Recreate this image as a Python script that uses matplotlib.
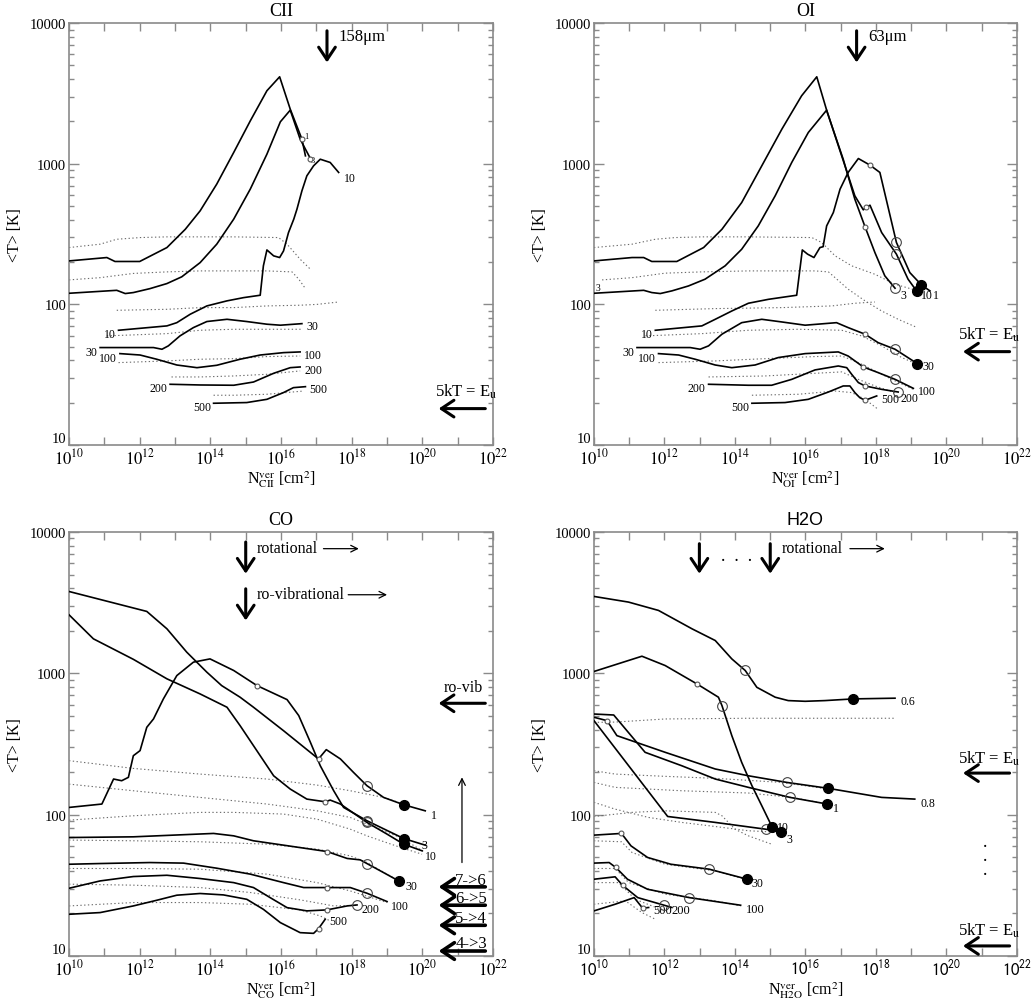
import numpy as np
import matplotlib
matplotlib.use("Agg")
import matplotlib.pyplot as plt
from matplotlib.ticker import FixedLocator, NullFormatter, FuncFormatter, LogLocator

plt.rcParams['font.family'] = ['Liberation Serif', 'DejaVu Serif']
plt.rcParams['mathtext.fontset'] = 'stix'

# all curves: log10 N [cm^-2] and log10 <T> [K]

# ---- CII ----
cii_1_x = [10, 11.07, 11.3, 12.0, 12.77, 13.29, 13.71, 14.18, 14.66, 15.13, 15.6, 15.96, 16.26, 16.59, 16.69]
cii_1_y = [2.309, 2.333, 2.305, 2.305, 2.404, 2.534, 2.665, 2.855, 3.08, 3.305, 3.519, 3.618, 3.388, 3.175, 3.056]
cii_3_x = [10, 11.35, 11.59, 11.82, 12.29, 12.77, 13.19, 13.71, 14.18, 14.66, 15.13, 15.6, 15.98, 16.26, 16.54, 16.83]
cii_3_y = [2.079, 2.1, 2.077, 2.084, 2.112, 2.148, 2.196, 2.297, 2.428, 2.606, 2.82, 3.068, 3.298, 3.381, 3.175, 3.037]
cii_10_x = [11.4, 12.77, 13.05, 13.43, 13.9, 14.47, 14.94, 15.41, 15.5, 15.6, 15.79, 15.96, 16.07, 16.21,
            16.36, 16.45, 16.59, 16.73, 16.92, 17.11, 17.39, 17.63]
cii_10_y = [1.816, 1.847, 1.87, 1.93, 1.989, 2.025, 2.048, 2.065, 2.274, 2.387, 2.345, 2.333, 2.38, 2.51,
            2.606, 2.677, 2.807, 2.914, 2.985, 3.032, 3.009, 2.938]
cii_30_x = [10.88, 12.39, 12.63, 12.81, 13.14, 13.52, 13.9, 14.47, 15.03, 15.6, 15.98, 16.59]
cii_30_y = [1.693, 1.693, 1.681, 1.705, 1.776, 1.835, 1.878, 1.894, 1.878, 1.859, 1.852, 1.863]
cii_100_x = [11.44, 12.01, 12.48, 13.05, 13.62, 14.18, 14.84, 15.41, 16.07, 16.54]
cii_100_y = [1.65, 1.64, 1.61, 1.569, 1.55, 1.567, 1.61, 1.64, 1.657, 1.662]
cii_200_x = [12.86, 13.71, 14.66, 15.22, 15.79, 16.26, 16.54]
cii_200_y = [1.432, 1.427, 1.425, 1.448, 1.51, 1.55, 1.555]
cii_500_x = [14.09, 15.03, 15.6, 16.07, 16.35, 16.69]
cii_500_y = [1.297, 1.302, 1.325, 1.373, 1.408, 1.415]
cii_d1_x = [10, 10.88, 11.35, 12.01, 12.77, 13.71, 14.66, 15.93, 16.17, 16.54, 16.83]
cii_d1_y = [2.404, 2.428, 2.463, 2.475, 2.48, 2.48, 2.48, 2.475, 2.428, 2.321, 2.25]
cii_d2_x = [10, 10.88, 11.82, 12.77, 13.71, 14.66, 15.6, 16.31, 16.5, 16.69]
cii_d2_y = [2.174, 2.19, 2.22, 2.231, 2.238, 2.238, 2.238, 2.231, 2.18, 2.112]
cii_d3_x = [11.35, 12.77, 13.71, 14.66, 15.6, 16.54, 17.02, 17.63]
cii_d3_y = [1.958, 1.965, 1.977, 1.977, 1.989, 1.994, 2.0, 2.017]
cii_d4_x = [11.07, 12.77, 13.71, 14.66, 15.6, 16.59]
cii_d4_y = [1.776, 1.792, 1.816, 1.823, 1.823, 1.823]
cii_d5_x = [11.4, 12.77, 13.71, 14.66, 15.6, 16.54]
cii_d5_y = [1.586, 1.598, 1.61, 1.614, 1.629, 1.633]
cii_d6_x = [12.9, 13.71, 14.66, 15.6, 16.54]
cii_d6_y = [1.484, 1.484, 1.491, 1.503, 1.527]
cii_d7_x = [14.09, 14.66, 15.6, 16.64]
cii_d7_y = [1.354, 1.354, 1.361, 1.384]

# ---- OI ----
oi_3_x = [10, 11.08, 11.41, 11.64, 12.35, 13.11, 13.63, 14.19, 14.76, 15.33, 15.89, 16.32, 16.62, 17.07,
          17.4, 17.69, 17.97, 18.25, 18.54]
oi_3_y = [2.309, 2.333, 2.333, 2.305, 2.305, 2.404, 2.534, 2.724, 2.985, 3.246, 3.483, 3.618, 3.364, 3.032,
          2.748, 2.551, 2.368, 2.203, 2.115]
oi_10_x = [10, 11.41, 11.64, 11.88, 12.21, 12.68, 13.15, 13.72, 14.19, 14.66, 15.14, 15.61, 16.08, 16.6,
           16.84, 17.12, 17.4, 17.64, 17.71, 17.83, 18.16, 18.58, 18.91, 19.15]
oi_10_y = [2.079, 2.1, 2.084, 2.077, 2.096, 2.131, 2.179, 2.274, 2.392, 2.558, 2.772, 3.009, 3.222, 3.381,
           3.198, 2.985, 2.772, 2.672, 2.689, 2.705, 2.511, 2.357, 2.179, 2.096]
oi_1_x = [11.74, 13.06, 13.44, 13.91, 14.38, 14.95, 15.75, 15.91, 16.06, 16.24, 16.41, 16.5, 16.6, 16.79,
          16.98, 17.21, 17.5, 17.83, 18.11, 18.58, 18.96, 19.29, 19.53]
oi_1_y = [1.816, 1.847, 1.894, 1.953, 2.008, 2.036, 2.065, 2.387, 2.357, 2.333, 2.404, 2.41, 2.558, 2.653,
          2.819, 2.938, 3.037, 2.99, 2.938, 2.44, 2.226, 2.138, 2.096]
oi_30_x = [11.22, 12.73, 13.01, 13.25, 13.63, 14.19, 14.76, 15.33, 15.99, 16.88, 17.21, 17.69, 18.06, 18.54, 19.17]
oi_30_y = [1.693, 1.693, 1.681, 1.705, 1.788, 1.87, 1.894, 1.875, 1.852, 1.87, 1.835, 1.788, 1.728, 1.681, 1.579]
oi_100_x = [11.83, 12.4, 12.87, 13.44, 13.91, 14.57, 15.23, 15.99, 16.93, 17.21, 17.64, 18.06, 18.54, 19.06]
oi_100_y = [1.65, 1.64, 1.61, 1.569, 1.55, 1.569, 1.622, 1.65, 1.662, 1.633, 1.555, 1.515, 1.467, 1.403]
oi_200_x = [13.25, 14.38, 15.04, 15.61, 16.27, 16.93, 17.17, 17.31, 17.5, 17.69, 18.16, 18.63]
oi_200_y = [1.432, 1.425, 1.425, 1.467, 1.534, 1.562, 1.55, 1.503, 1.444, 1.42, 1.396, 1.377]
oi_500_x = [14.48, 15.42, 16.08, 16.65, 17.07, 17.26, 17.4, 17.54, 17.69, 18.02]
oi_500_y = [1.297, 1.302, 1.325, 1.377, 1.42, 1.42, 1.373, 1.337, 1.318, 1.349]
oi_d1_x = [10, 11.08, 11.74, 12.3, 13.06, 14.38, 16.18, 16.46, 16.84, 17.31, 17.97, 18.54, 19.1]
oi_d1_y = [2.404, 2.428, 2.463, 2.475, 2.48, 2.48, 2.475, 2.44, 2.345, 2.274, 2.214, 2.143, 2.103]
oi_d2_x = [10.23, 11.08, 12.02, 13.06, 14.38, 16.27, 16.65, 16.84, 17.21, 17.69, 18.16, 18.63, 19.17]
oi_d2_y = [2.174, 2.19, 2.222, 2.231, 2.238, 2.238, 2.231, 2.19, 2.108, 2.025, 1.953, 1.894, 1.835]
oi_d3_x = [11.74, 13.44, 15.33, 16.75, 17.4, 17.97]
oi_d3_y = [1.958, 1.97, 1.977, 1.989, 2.008, 2.017]
oi_d4_x = [11.46, 13.06, 14.38, 15.8, 17.03, 17.59, 18.16, 18.73, 19.17]
oi_d4_y = [1.776, 1.792, 1.816, 1.823, 1.816, 1.776, 1.705, 1.622, 1.574]
oi_d5_x = [11.83, 13.44, 14.85, 16.27, 17.03, 17.5, 17.97, 18.54, 19.06]
oi_d5_y = [1.586, 1.598, 1.614, 1.629, 1.633, 1.586, 1.527, 1.456, 1.396]
oi_d6_x = [13.25, 14.85, 16.27, 17.03, 17.5, 17.97, 18.54]
oi_d6_y = [1.484, 1.491, 1.51, 1.52, 1.467, 1.42, 1.373]
oi_d7_x = [14.48, 15.8, 16.84, 17.31, 17.69, 18.06]
oi_d7_y = [1.354, 1.361, 1.384, 1.373, 1.325, 1.254]

# ---- CO ----
co_1_x = [10, 12.2, 12.77, 13.33, 13.9, 14.32, 14.84, 15.22, 16.07, 17.06, 17.28, 17.68, 18.05, 18.43, 18.9, 19.47, 20.08]
co_1_y = [3.579, 3.438, 3.315, 3.15, 3.008, 2.913, 2.831, 2.76, 2.594, 2.394, 2.46, 2.394, 2.299, 2.205, 2.122, 2.07, 2.027]
co_10_x = [10, 10.69, 11.82, 12.77, 13.71, 14.47, 14.84, 15.22, 15.79, 16.26, 16.73, 17.25, 17.39, 17.68,
           18.43, 19.0, 19.47, 19.99]
co_10_y = [3.414, 3.244, 3.099, 2.961, 2.854, 2.76, 2.63, 2.488, 2.275, 2.181, 2.11, 2.091, 2.103, 2.075,
           1.945, 1.862, 1.791, 1.744]
co_3_x = [10, 10.93, 11.26, 11.49, 11.68, 11.82, 12.01, 12.2, 12.39, 12.67, 13.05, 13.52, 13.99, 14.66,
          15.32, 16.17, 16.5, 16.83, 17.11, 17.49, 17.77, 18.43, 19.47, 20.08]
co_3_y = [2.051, 2.075, 2.252, 2.24, 2.264, 2.417, 2.453, 2.618, 2.677, 2.819, 2.984, 3.079, 3.102, 3.02,
          2.913, 2.814, 2.701, 2.512, 2.346, 2.169, 2.051, 1.957, 1.831, 1.784]
co_30_x = [10, 11.82, 14.09, 14.66, 15.22, 16.07, 17.3, 17.87, 18.24, 18.43, 18.9, 19.33]
co_30_y = [1.838, 1.843, 1.867, 1.85, 1.815, 1.784, 1.739, 1.69, 1.68, 1.654, 1.59, 1.531]
co_100_x = [10, 10.88, 12.29, 13.24, 14.18, 15.13, 16.07, 16.64, 17.3, 17.96, 18.43, 19.0]
co_100_y = [1.649, 1.654, 1.661, 1.657, 1.621, 1.579, 1.519, 1.484, 1.484, 1.484, 1.444, 1.385]
co_200_x = [10, 10.88, 11.82, 12.77, 13.71, 14.66, 15.22, 15.69, 16.17, 16.73, 17.3, 17.87, 18.15]
co_200_y = [1.479, 1.531, 1.562, 1.571, 1.548, 1.519, 1.484, 1.413, 1.342, 1.319, 1.326, 1.354, 1.361]
co_500_x = [10, 10.88, 11.82, 12.48, 13.05, 13.71, 14.37, 15.03, 15.5, 15.98, 16.54, 16.92, 17.06, 17.25]
co_500_y = [1.295, 1.307, 1.354, 1.394, 1.43, 1.442, 1.432, 1.401, 1.33, 1.236, 1.165, 1.16, 1.193, 1.26]
co_d1_x = [10, 11.82, 13.71, 15.6, 17.02, 17.96, 18.9, 19.47]
co_d1_y = [2.382, 2.327, 2.287, 2.252, 2.209, 2.169, 2.122, 2.075]
co_d2_x = [10, 11.82, 13.71, 15.6, 17.02, 17.96, 18.43, 19.38, 20.08]
co_d2_y = [2.216, 2.169, 2.122, 2.075, 2.027, 1.98, 1.933, 1.838, 1.732]
co_d3_x = [10, 11.82, 13.71, 14.66, 16.07, 17.02, 17.96, 18.43, 19.38, 19.99]
co_d3_y = [1.961, 1.992, 2.016, 2.016, 2.004, 1.968, 1.897, 1.85, 1.768, 1.72]
co_d4_x = [10, 11.82, 13.71, 15.6, 17.02, 17.96, 18.43, 19.33]
co_d4_y = [1.82, 1.815, 1.808, 1.791, 1.756, 1.708, 1.661, 1.531]
co_d5_x = [10, 11.82, 13.71, 15.6, 17.02, 17.96, 19.0]
co_d5_y = [1.619, 1.619, 1.614, 1.579, 1.519, 1.46, 1.378]
co_d6_x = [10, 11.82, 13.71, 15.13, 16.54, 17.49, 18.15]
co_d6_y = [1.508, 1.501, 1.484, 1.449, 1.397, 1.354, 1.359]
co_d7_x = [10, 11.82, 13.71, 15.13, 16.54, 17.11, 17.39]
co_d7_y = [1.354, 1.378, 1.378, 1.366, 1.326, 1.283, 1.248]

# ---- H2O ----
h2o_06_x = [10, 10.98, 11.83, 12.78, 13.44, 13.91, 14.29, 14.62, 15.14, 15.51, 15.99, 16.55, 17.36, 18.54]
h2o_06_y = [3.544, 3.504, 3.445, 3.315, 3.232, 3.102, 3.02, 2.901, 2.831, 2.807, 2.802, 2.807, 2.819, 2.824]
h2o_10_x = [10, 11.36, 12.02, 12.92, 13.53, 13.63, 13.91, 14.19, 14.48, 14.76, 15.06]
h2o_10_y = [3.013, 3.121, 3.055, 2.925, 2.831, 2.772, 2.559, 2.37, 2.205, 2.063, 1.909]
h2o_08_x = [10, 10.37, 10.65, 12.02, 13.44, 14.38, 15.47, 16.65, 18.16, 19.1]
h2o_08_y = [2.689, 2.665, 2.559, 2.441, 2.323, 2.275, 2.228, 2.186, 2.122, 2.11]
h2o_1_x = [10, 10.56, 11.45, 12.49, 13.44, 14.38, 15.56, 16.62]
h2o_1_y = [2.712, 2.705, 2.441, 2.346, 2.252, 2.193, 2.122, 2.075]
h2o_3_x = [10, 12.09, 13.44, 14.87, 15.3]
h2o_3_y = [2.665, 1.987, 1.945, 1.897, 1.879]
h2o_30_x = [10, 10.78, 11.05, 11.52, 12.18, 13.27, 14.35]
h2o_30_y = [1.855, 1.867, 1.779, 1.697, 1.649, 1.614, 1.543]
h2o_100_x = [10, 10.43, 10.62, 10.95, 11.52, 12.7, 14.16]
h2o_100_y = [1.657, 1.661, 1.626, 1.543, 1.472, 1.413, 1.359]
h2o_200_x = [10, 10.6, 10.81, 11.24, 11.99, 12.21]
h2o_200_y = [1.543, 1.56, 1.5, 1.413, 1.359, 1.343]
h2o_500_x = [10, 10.6, 11.14, 11.38, 11.55]
h2o_500_y = [1.319, 1.366, 1.413, 1.338, 1.343]
h2o_d1_x = [10, 10.6, 12.02, 14.38, 16.27, 18.54]
h2o_d1_y = [2.653, 2.655, 2.677, 2.682, 2.682, 2.682]
h2o_d2_x = [10, 10.6, 12.02, 13.44, 15.33, 16.65]
h2o_d2_y = [2.311, 2.287, 2.271, 2.257, 2.228, 2.181]
h2o_d3_x = [10, 10.6, 12.49, 14.38, 15.61, 16.62]
h2o_d3_y = [2.228, 2.193, 2.169, 2.153, 2.122, 2.075]
h2o_d4_x = [10, 10.6, 11.55, 12.49, 13.44, 14.38, 15.33]
h2o_d4_y = [2.087, 2.039, 1.98, 1.945, 1.916, 1.886, 1.874]
h2o_d5_x = [10, 11.08, 12.02, 13.44, 13.63, 14.0, 14.38, 15.04]
h2o_d5_y = [1.987, 2.016, 2.027, 2.016, 1.992, 1.897, 1.85, 1.791]
h2o_d6_x = [10, 10.78, 11.08, 12.02, 13.44, 14.35]
h2o_d6_y = [1.815, 1.808, 1.732, 1.649, 1.602, 1.538]
h2o_d7_x = [10, 10.6, 10.98, 12.02, 13.44, 14.16]
h2o_d7_y = [1.619, 1.619, 1.52, 1.437, 1.39, 1.354]
h2o_d8_x = [10, 10.7, 11.17, 11.93]
h2o_d8_y = [1.519, 1.519, 1.401, 1.326]
h2o_d9_x = [10, 10.89, 11.36, 11.74]
h2o_d9_y = [1.366, 1.39, 1.307, 1.26]

FRAME = '#8a8a8a'
DOTC = '#6a6a6a'
SANS = ['Liberation Sans', 'DejaVu Sans']


def p(v):
    return 10.0 ** np.asarray(v, dtype=float)


def setup(ax, title, sub, sans=False):
    ax.set_xscale('log')
    ax.set_yscale('log')
    ax.set_xlim(1e10, 1e22)
    ax.set_ylim(10, 1e4)
    ax.xaxis.set_major_locator(FixedLocator([10.0 ** k for k in range(10, 23, 2)]))
    ax.xaxis.set_minor_locator(FixedLocator([10.0 ** k for k in range(11, 22, 2)]))
    ax.xaxis.set_minor_formatter(NullFormatter())
    ax.xaxis.set_major_formatter(FuncFormatter(lambda v, pos: r'$10^{%d}$' % round(np.log10(v))))
    ax.yaxis.set_major_locator(FixedLocator([10, 100, 1000, 10000]))
    ax.yaxis.set_minor_locator(LogLocator(base=10, subs=range(2, 10)))
    ax.yaxis.set_minor_formatter(NullFormatter())
    ax.yaxis.set_major_formatter(FuncFormatter(lambda v, pos: '%d' % round(v)))
    ax.tick_params(which='both', direction='in', top=True, right=True, color=FRAME, width=1)
    ax.tick_params(axis='x', which='both', length=6, labelsize=12, pad=2)
    ax.tick_params(axis='y', which='major', length=7, labelsize=10.5, pad=2)
    ax.tick_params(axis='y', which='minor', length=3.5)
    for s in ax.spines.values():
        s.set_color(FRAME)
        s.set_linewidth(1.2)
    if sans:
        ax.set_title(title, fontsize=13, pad=6, family=SANS)
    else:
        ax.set_title(title, fontsize=13, pad=6)
    ax.set_ylabel('<T> [K]', fontsize=11.5, labelpad=5)
    ax.set_xlabel(r'N$^{\rm ver}_{\rm %s}$ [cm$^2$]' % sub, fontsize=11.5, labelpad=0)


def fix_ticks(ax, sans=False):
    # lowest y label sits just above the axis corner
    ax.yaxis.get_major_ticks()[0].label1.set_verticalalignment('bottom')
    if sans:
        for t in ax.xaxis.get_major_ticks():
            t.label1.set_math_fontfamily('stixsans')


def curve(ax, lx, ly, small=(), big=(), full=()):
    x, y = p(lx), p(ly)
    ax.plot(x, y, color='k', lw=1.2, zorder=3)
    for i in small:
        ax.plot(x[i], y[i], 'o', ms=3.5, mfc='white', mec='#555555', mew=0.8, zorder=4)
    for i in big:
        ax.plot(x[i], y[i], 'o', ms=7, mfc='none', mec='#444444', mew=0.8, zorder=4)
    for i in full:
        ax.plot(x[i], y[i], 'o', ms=7, color='k', zorder=5)


def dotted(ax, lx, ly):
    ax.plot(p(lx), p(ly), color=DOTC, lw=0.8, ls=(0, (1.2, 2.2)), zorder=2)


def tag(ax, lx, ly, s, at=-1, dx=3, dy=-2, ha='left', size=8.5):
    ax.annotate(s, (p(lx[at]), p(ly[at])), xytext=(dx, dy), textcoords='offset points',
                ha=ha, va='center', fontsize=size)


def big_arrow(ax, x0, y0, x1, y1, lw=2.2):
    ax.annotate('', xy=(p(x1), p(y1)), xytext=(p(x0), p(y0)),
                arrowprops=dict(arrowstyle='->, head_length=0.45, head_width=0.3', lw=lw, color='k',
                                mutation_scale=20, shrinkA=0, shrinkB=0))


def thin_arrow(ax, x0, y0, x1, y1):
    ax.annotate('', xy=(p(x1), p(y1)), xytext=(p(x0), p(y0)),
                arrowprops=dict(arrowstyle='->', lw=0.9, color='k', mutation_scale=12,
                                shrinkA=0, shrinkB=0))


def note(ax, x, y, s, size=12, **kw):
    ax.text(p(x), p(y), s, fontsize=size, va='baseline', **kw)


fig = plt.figure(figsize=(10.35, 10.03), dpi=100)
ax1 = fig.add_axes([0.0667, 0.5553, 0.4097, 0.4207])
ax2 = fig.add_axes([0.5739, 0.5553, 0.4087, 0.4207])
ax3 = fig.add_axes([0.0667, 0.0459, 0.4097, 0.4227])
ax4 = fig.add_axes([0.5739, 0.0459, 0.4087, 0.4227])

# ---------------- CII ----------------
ax = ax1
setup(ax, 'CII', 'CII')
for dx_, dy_ in [(cii_d1_x, cii_d1_y), (cii_d2_x, cii_d2_y), (cii_d3_x, cii_d3_y), (cii_d4_x, cii_d4_y),
                 (cii_d5_x, cii_d5_y), (cii_d6_x, cii_d6_y), (cii_d7_x, cii_d7_y)]:
    dotted(ax, dx_, dy_)
curve(ax, cii_1_x, cii_1_y, small=[13])
curve(ax, cii_3_x, cii_3_y, small=[15])
curve(ax, cii_10_x, cii_10_y)
curve(ax, cii_30_x, cii_30_y)
curve(ax, cii_100_x, cii_100_y)
curve(ax, cii_200_x, cii_200_y)
curve(ax, cii_500_x, cii_500_y)
tag(ax, cii_1_x, cii_1_y, '1', at=13, dx=2, dy=2, size=6)
tag(ax, cii_3_x, cii_3_y, '3', dx=0, dy=-1, size=6)
tag(ax, cii_10_x, cii_10_y, '10', dx=4, dy=-4)
for lx, ly, s in [(cii_10_x, cii_10_y, '10'), (cii_30_x, cii_30_y, '30'), (cii_100_x, cii_100_y, '100'),
                  (cii_200_x, cii_200_y, '200'), (cii_500_x, cii_500_y, '500')]:
    tag(ax, lx, ly, s, at=0, dx=-2, dy=-3, ha='right')
for lx, ly, s in [(cii_30_x, cii_30_y, '30'), (cii_100_x, cii_100_y, '100'),
                  (cii_200_x, cii_200_y, '200'), (cii_500_x, cii_500_y, '500')]:
    tag(ax, lx, ly, s, dx=3, dy=-2)
big_arrow(ax, 17.3, 3.945, 17.3, 3.72)
note(ax, 17.63, 3.88, '158\u03bcm')
note(ax, 20.37, 1.353, '5kT = E$_{\\rm u}$')
big_arrow(ax, 21.78, 1.259, 20.46, 1.259)

# ---------------- OI ----------------
ax = ax2
setup(ax, 'OI', 'OI')
for dx_, dy_ in [(oi_d1_x, oi_d1_y), (oi_d2_x, oi_d2_y), (oi_d3_x, oi_d3_y), (oi_d4_x, oi_d4_y),
                 (oi_d5_x, oi_d5_y), (oi_d6_x, oi_d6_y), (oi_d7_x, oi_d7_y)]:
    dotted(ax, dx_, dy_)
curve(ax, oi_3_x, oi_3_y, small=[15], big=[18])
curve(ax, oi_10_x, oi_10_y, small=[18], big=[21], full=[23])
curve(ax, oi_1_x, oi_1_y, small=[17], big=[19], full=[21])
curve(ax, oi_30_x, oi_30_y, small=[11], big=[13], full=[14])
curve(ax, oi_100_x, oi_100_y, small=[10], big=[12])
curve(ax, oi_200_x, oi_200_y, small=[9], big=[11])
curve(ax, oi_500_x, oi_500_y, small=[8])
tag(ax, oi_3_x, oi_3_y, '3', dx=4, dy=-5)
tag(ax, oi_10_x, oi_10_y, '10', dx=3, dy=-3)
tag(ax, oi_1_x, oi_1_y, '1', dx=2, dy=-3)
tag(ax, oi_10_x, oi_10_y, '3', at=0, dx=1, dy=4, size=7)
for lx, ly, s in [(oi_1_x, oi_1_y, '10'), (oi_30_x, oi_30_y, '30'), (oi_100_x, oi_100_y, '100'),
                  (oi_200_x, oi_200_y, '200'), (oi_500_x, oi_500_y, '500')]:
    tag(ax, lx, ly, s, at=0, dx=-2, dy=-3, ha='right')
tag(ax, oi_30_x, oi_30_y, '30', dx=4, dy=-2)
tag(ax, oi_100_x, oi_100_y, '100', dx=3, dy=-2)
tag(ax, oi_200_x, oi_200_y, '200', dx=2, dy=-4)
tag(ax, oi_500_x, oi_500_y, '500', dx=3, dy=-2)
big_arrow(ax, 17.45, 3.945, 17.45, 3.72)
note(ax, 17.78, 3.88, '63\u03bcm')
note(ax, 20.33, 1.757, '5kT = E$_{\\rm u}$')
big_arrow(ax, 21.79, 1.664, 20.47, 1.664)

# ---------------- CO ----------------
ax = ax3
setup(ax, 'CO', 'CO')
for dx_, dy_ in [(co_d1_x, co_d1_y), (co_d2_x, co_d2_y), (co_d3_x, co_d3_y), (co_d4_x, co_d4_y),
                 (co_d5_x, co_d5_y), (co_d6_x, co_d6_y), (co_d7_x, co_d7_y)]:
    dotted(ax, dx_, dy_)
curve(ax, co_1_x, co_1_y, small=[9], big=[13], full=[15])
curve(ax, co_10_x, co_10_y, small=[11], big=[14], full=[16])
curve(ax, co_3_x, co_3_y, small=[14], big=[21], full=[22])
curve(ax, co_30_x, co_30_y, small=[6], big=[9], full=[11])
curve(ax, co_100_x, co_100_y, small=[8], big=[10])
curve(ax, co_200_x, co_200_y, small=[10], big=[12])
curve(ax, co_500_x, co_500_y, small=[12])
tag(ax, co_1_x, co_1_y, '1', dx=4, dy=-3)
tag(ax, co_3_x, co_3_y, '3', dx=-3, dy=0)
tag(ax, co_10_x, co_10_y, '10', dx=2, dy=-4)
tag(ax, co_30_x, co_30_y, '30', dx=5, dy=-4)
tag(ax, co_100_x, co_100_y, '100', dx=3, dy=-3)
tag(ax, co_200_x, co_200_y, '200', dx=3, dy=-3)
tag(ax, co_500_x, co_500_y, '500', dx=3, dy=-1)
note(ax, 15.32, 3.858, 'rotational', size=11.5)
thin_arrow(ax, 17.2, 3.882, 18.2, 3.882)
big_arrow(ax, 15.0, 3.929, 15.0, 3.705)
note(ax, 15.32, 3.532, 'ro-vibrational', size=11.5)
thin_arrow(ax, 17.9, 3.556, 19.0, 3.556)
big_arrow(ax, 15.0, 3.598, 15.0, 3.374)
note(ax, 20.59, 2.878, 'ro-vib', size=11.5)
big_arrow(ax, 21.78, 2.788, 20.46, 2.788)
thin_arrow(ax, 21.12, 1.661, 21.12, 2.264)
for s, ty, ay in [('7->6', 1.508, 1.489), ('6->5', 1.385, 1.359), ('5->4', 1.243, 1.217), ('4->3', 1.061, 1.035)]:
    note(ax, 20.93, ty, s)
    big_arrow(ax, 21.78, ay, 20.46, ay, lw=2.6)

# ---------------- H2O ----------------
ax = ax4
setup(ax, 'H2O', 'H2O', sans=True)
for dx_, dy_ in [(h2o_d1_x, h2o_d1_y), (h2o_d2_x, h2o_d2_y), (h2o_d3_x, h2o_d3_y), (h2o_d4_x, h2o_d4_y),
                 (h2o_d5_x, h2o_d5_y), (h2o_d6_x, h2o_d6_y), (h2o_d7_x, h2o_d7_y), (h2o_d8_x, h2o_d8_y),
                 (h2o_d9_x, h2o_d9_y)]:
    dotted(ax, dx_, dy_)
curve(ax, h2o_06_x, h2o_06_y, big=[6], full=[12])
curve(ax, h2o_10_x, h2o_10_y, small=[3], big=[5], full=[10])
curve(ax, h2o_08_x, h2o_08_y, small=[1], big=[6], full=[7])
curve(ax, h2o_1_x, h2o_1_y, big=[6], full=[7])
curve(ax, h2o_3_x, h2o_3_y, big=[3], full=[4])
curve(ax, h2o_30_x, h2o_30_y, small=[1], big=[5], full=[6])
curve(ax, h2o_100_x, h2o_100_y, small=[2], big=[5])
curve(ax, h2o_200_x, h2o_200_y, small=[2], big=[4])
curve(ax, h2o_500_x, h2o_500_y, small=[3])
tag(ax, h2o_06_x, h2o_06_y, '0.6', dx=4, dy=-2)
tag(ax, h2o_08_x, h2o_08_y, '0.8', dx=4, dy=-3)
tag(ax, h2o_1_x, h2o_1_y, '1', dx=4, dy=-3)
tag(ax, h2o_10_x, h2o_10_y, '10', dx=3, dy=0)
tag(ax, h2o_3_x, h2o_3_y, '3', dx=4, dy=-5)
tag(ax, h2o_30_x, h2o_30_y, '30', dx=3, dy=-3)
tag(ax, h2o_100_x, h2o_100_y, '100', dx=4, dy=-3, size=9)
tag(ax, h2o_200_x, h2o_200_y, '200', dx=0, dy=-2, size=9)
tag(ax, h2o_500_x, h2o_500_y, '500', dx=3, dy=-2, size=9)
big_arrow(ax, 12.99, 3.917, 12.99, 3.705)
big_arrow(ax, 15.0, 3.917, 15.0, 3.705)
ax.text(p(14.05), p(3.80), '.  .  .', fontsize=13, ha='center', va='baseline')
note(ax, 15.33, 3.858, 'rotational', size=11.5)
thin_arrow(ax, 17.26, 3.882, 18.25, 3.882)
note(ax, 20.33, 2.365, '5kT = E$_{\\rm u}$')
big_arrow(ax, 21.79, 2.294, 20.47, 2.294)
ax.text(p(21.09), p(1.71), '.\n.\n.', fontsize=13, ha='center', va='center', linespacing=0.75)
note(ax, 20.33, 1.153, '5kT = E$_{\\rm u}$')
big_arrow(ax, 21.79, 1.071, 20.47, 1.071)

fig.canvas.draw()
for a in (ax1, ax2, ax3):
    fix_ticks(a)
fix_ticks(ax4, sans=True)

fig.savefig('out.png', dpi=100)
